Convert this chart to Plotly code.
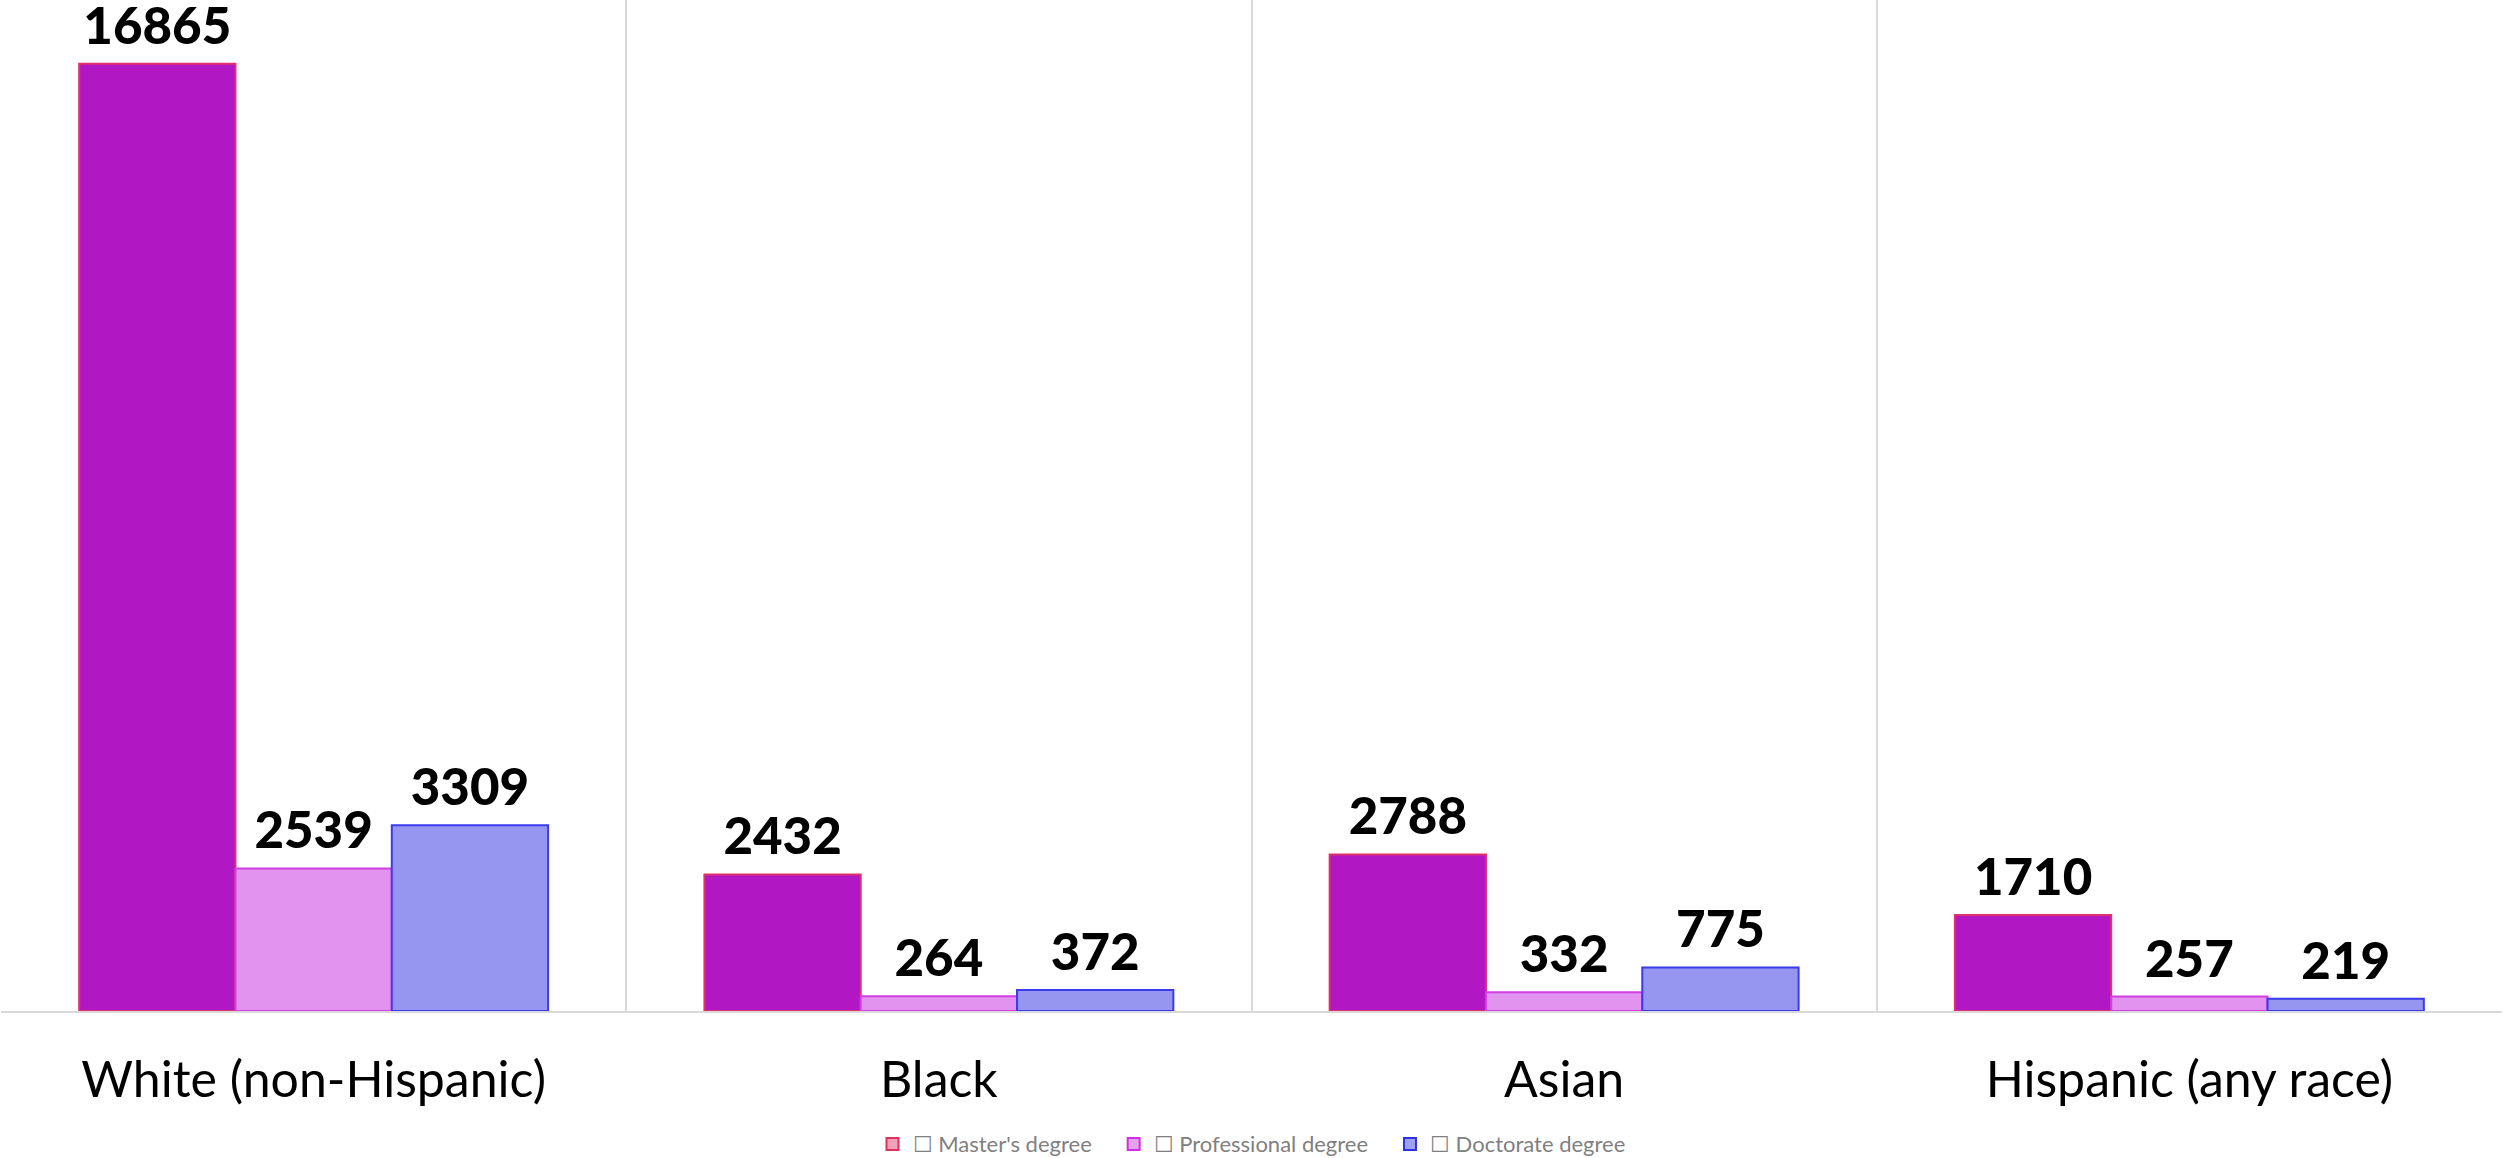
import plotly.graph_objects as go

categories = ["White (non-Hispanic)", "Black", "Asian", "Hispanic (any race)"]
series_names = ["Master's degree", "Professional degree", "Doctorate degree"]
masters = [16865, 2432, 2788, 1710]
professional = [2539, 264, 332, 257]
doctorate = [3309, 372, 775, 219]

values = [masters, professional, doctorate]
bar_fill = ["#B118C4", "#E292EF", "#9696F0"]
bar_line = ["#E0306E", "#D040E2", "#3A3AEE"]
legend_fill = ["#F0A0B8", "#E6A0F0", "#A0A0F2"]
legend_line = ["#E0305A", "#D030E0", "#3030E0"]
groups = ["m", "p", "d"]

fig = go.Figure()
for name, vals, fc, lc, g in zip(series_names, values, bar_fill, bar_line, groups):
    fig.add_trace(go.Bar(
        x=categories, y=vals, name=name, offsetgroup=g,
        marker=dict(color=fc, line=dict(color=lc, width=2)),
        showlegend=False, hoverinfo="x+y",
    ))
    fig.add_trace(go.Scatter(
        x=categories, y=vals, offsetgroup=g, mode="markers+text",
        text=[str(v) for v in vals], textposition="top center",
        textfont=dict(family="Lato", size=51, color="#000000", weight=900),
        marker=dict(size=10, opacity=0),
        showlegend=False, hoverinfo="skip", cliponaxis=False,
    ))

pad = "\u00a0" * 3
for i, (name, fc, lc, g) in enumerate(zip(series_names, legend_fill, legend_line, groups)):
    label = "\u2610 " + name + (pad if i < len(series_names) - 1 else "")
    fig.add_trace(go.Bar(
        x=[None], y=[None], name=label, offsetgroup=g,
        marker=dict(color=fc, line=dict(color=lc, width=2)),
        showlegend=True,
    ))

fig.update_layout(
    width=2503, height=1158,
    margin=dict(l=1, r=1, t=0, b=147, autoexpand=False),
    paper_bgcolor="white", plot_bgcolor="white",
    barmode="group", bargap=0.25, bargroupgap=0,
    scattermode="group", scattergap=0.25,
    showlegend=True,
    legend=dict(orientation="h", x=0.5, xanchor="center",
                yref="container", y=0.012, yanchor="middle",
                font=dict(family="Lato", size=22, color="#808080"),
                itemclick=False),
    xaxis=dict(type="category", range=[-0.5, 3.5], tickson="boundaries",
               showgrid=True, gridcolor="#D9D9D9", gridwidth=2,
               showline=True, linecolor="#D9D9D9", linewidth=2,
               ticks="", ticklabelstandoff=24, automargin=False,
               tickfont=dict(family="Lato", size=50, color="#000000")),
    yaxis=dict(range=[0, 18000], showgrid=False, showticklabels=False,
               zeroline=False, showline=False, ticks="", automargin=False),
)

fig.write_html("out.html", config={"displayModeBar": False},
               post_script="document.body.style.margin='0';document.body.style.overflow='hidden';")
